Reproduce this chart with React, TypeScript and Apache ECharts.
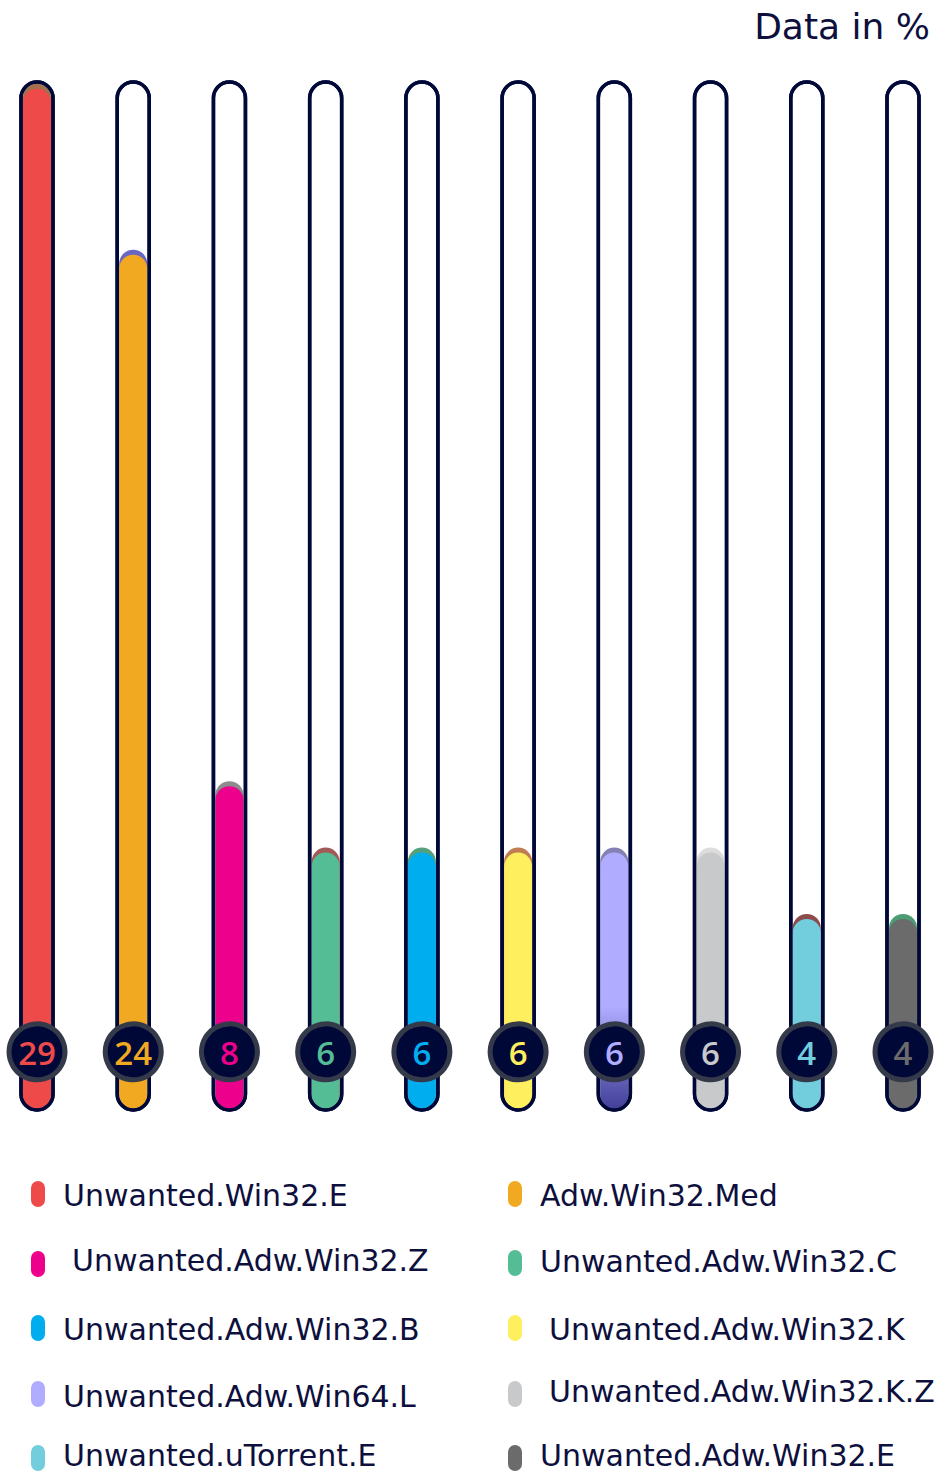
import React, { useEffect, useRef } from "react";
import * as echarts from "echarts";

// Detection names, shares (%) and palette
const names = [
  "Unwanted.Win32.E",
  "Adw.Win32.Med",
  "Unwanted.Adw.Win32.Z",
  "Unwanted.Adw.Win32.C",
  "Unwanted.Adw.Win32.B",
  "Unwanted.Adw.Win32.K",
  "Unwanted.Adw.Win64.L",
  "Unwanted.Adw.Win32.K.Z",
  "Unwanted.uTorrent.E",
  "Unwanted.Adw.Win32.E",
];
const values = [29, 24, 8, 6, 6, 6, 6, 6, 4, 4];
const colors = [
  "#ef4a4a",
  "#f2a922",
  "#ec008c",
  "#55bd95",
  "#00aeef",
  "#fdef5d",
  "#b0acff",
  "#c8c9cb",
  "#72cddc",
  "#6b6b6b",
];
const capColors = [
  "#a2704e",
  "#6a66c6",
  "#8c8c8c",
  "#a25a56",
  "#54a07c",
  "#c07c52",
  "#8482b4",
  "#dcdcdc",
  "#8c4c4c",
  "#4c9c74",
];
const title = "Data in %";

// Value range of each tube
const AXIS_MIN = -1.75;
const AXIS_MAX = 29.2;

// Legend layout
const legendMarkerX = [38, 515];
const legendTextX = [63, 540, 72, 540, 63, 549, 63, 549, 63, 540];
const legendMarkerY = [1194, 1194, 1264, 1263, 1328, 1328, 1394, 1394, 1458, 1458];
const legendTextY = [1195, 1195, 1260, 1261, 1329, 1329, 1396, 1391, 1455, 1455];

const NAVY = "#000838";
const TEXT = "#0d0f3d";
const LABEL_FONT = "'DejaVu Sans', sans-serif";
const DIGIT_FONT = "'Open Sans', 'Noto Sans', sans-serif";

export default function App() {
  const ref = useRef<HTMLDivElement>(null);

  useEffect(() => {
    if (!ref.current) return;
    const chart = echarts.init(ref.current, null, { renderer: "svg" });

    const fillFor = (i: number) =>
      i === 6
        ? new echarts.graphic.LinearGradient(0, 0, 0, 1, [
            { offset: 0, color: colors[i] },
            { offset: 0.6, color: colors[i] },
            { offset: 1, color: "#43409a" },
          ])
        : colors[i];

    const renderItem = (params: any, api: any) => {
      const i = api.value(0);
      const v = api.value(1);
      const [cx, yVal] = api.coord([i, v]);
      const yTop = api.coord([i, AXIS_MAX])[1];
      const yBot = api.coord([i, AXIS_MIN])[1];
      const y0 = api.coord([i, 0])[1];
      const tubeW = 32;
      const fillW = 28;
      const inner = yBot - 1.5;
      return {
        type: "group",
        children: [
          {
            type: "rect",
            shape: { x: cx - tubeW / 2, y: yTop, width: tubeW, height: yBot - yTop, r: tubeW / 2 },
            style: { fill: "#ffffff", stroke: NAVY, lineWidth: 3.5 },
          },
          {
            type: "rect",
            shape: { x: cx - fillW / 2, y: yVal - 5, width: fillW, height: inner - yVal + 5, r: fillW / 2 },
            style: { fill: capColors[i] },
          },
          {
            type: "rect",
            shape: { x: cx - fillW / 2, y: yVal, width: fillW, height: inner - yVal, r: fillW / 2 },
            style: { fill: fillFor(i) },
          },
          {
            type: "rect",
            shape: { x: cx - tubeW / 2, y: yTop, width: tubeW, height: yBot - yTop, r: tubeW / 2 },
            style: { fill: "none", stroke: NAVY, lineWidth: 3.5 },
          },
          {
            type: "circle",
            shape: { cx, cy: y0, r: 28 },
            style: { fill: NAVY, stroke: "#353a4b", lineWidth: 5 },
          },
          {
            type: "text",
            x: cx,
            y: y0 + 1,
            style: {
              text: String(v),
              fill: colors[i],
              font: `600 33px ${DIGIT_FONT}`,
              lineHeight: 33,
              align: "center",
              verticalAlign: "middle",
            },
          },
        ],
      };
    };

    const legendGraphics: any[] = [];
    names.forEach((name, i) => {
      const col = i % 2;
      legendGraphics.push({
        type: "rect",
        shape: { x: legendMarkerX[col] - 7, y: legendMarkerY[i] - 13, width: 14, height: 26, r: 7 },
        style: { fill: colors[i] },
      });
      legendGraphics.push({
        type: "text",
        x: legendTextX[i],
        y: legendTextY[i],
        style: {
          text: name,
          fill: TEXT,
          font: `400 30px ${LABEL_FONT}`,
          lineHeight: 30,
          align: "left",
          verticalAlign: "middle",
        },
      });
    });
    legendGraphics.push({
      type: "text",
      x: 930,
      y: 26,
      style: {
        text: title,
        fill: TEXT,
        font: `400 36px ${LABEL_FONT}`,
        lineHeight: 36,
        align: "right",
        verticalAlign: "middle",
      },
    });

    chart.setOption({
      animation: false,
      grid: { left: 37, right: 35, top: 82, bottom: 363 },
      xAxis: {
        type: "category",
        data: names,
        boundaryGap: false,
        show: false,
      },
      yAxis: {
        type: "value",
        min: AXIS_MIN,
        max: AXIS_MAX,
        show: false,
        splitLine: { show: false },
      },
      series: [
        {
          type: "custom",
          renderItem,
          data: values.map((v, i) => [i, v]),
          clip: false,
        },
      ],
      graphic: legendGraphics,
    });

    return () => chart.dispose();
  }, []);

  return (
    <div
      ref={ref}
      style={{ position: "absolute", left: 0, top: 0, width: 938, height: 1473, background: "#ffffff" }}
    />
  );
}
